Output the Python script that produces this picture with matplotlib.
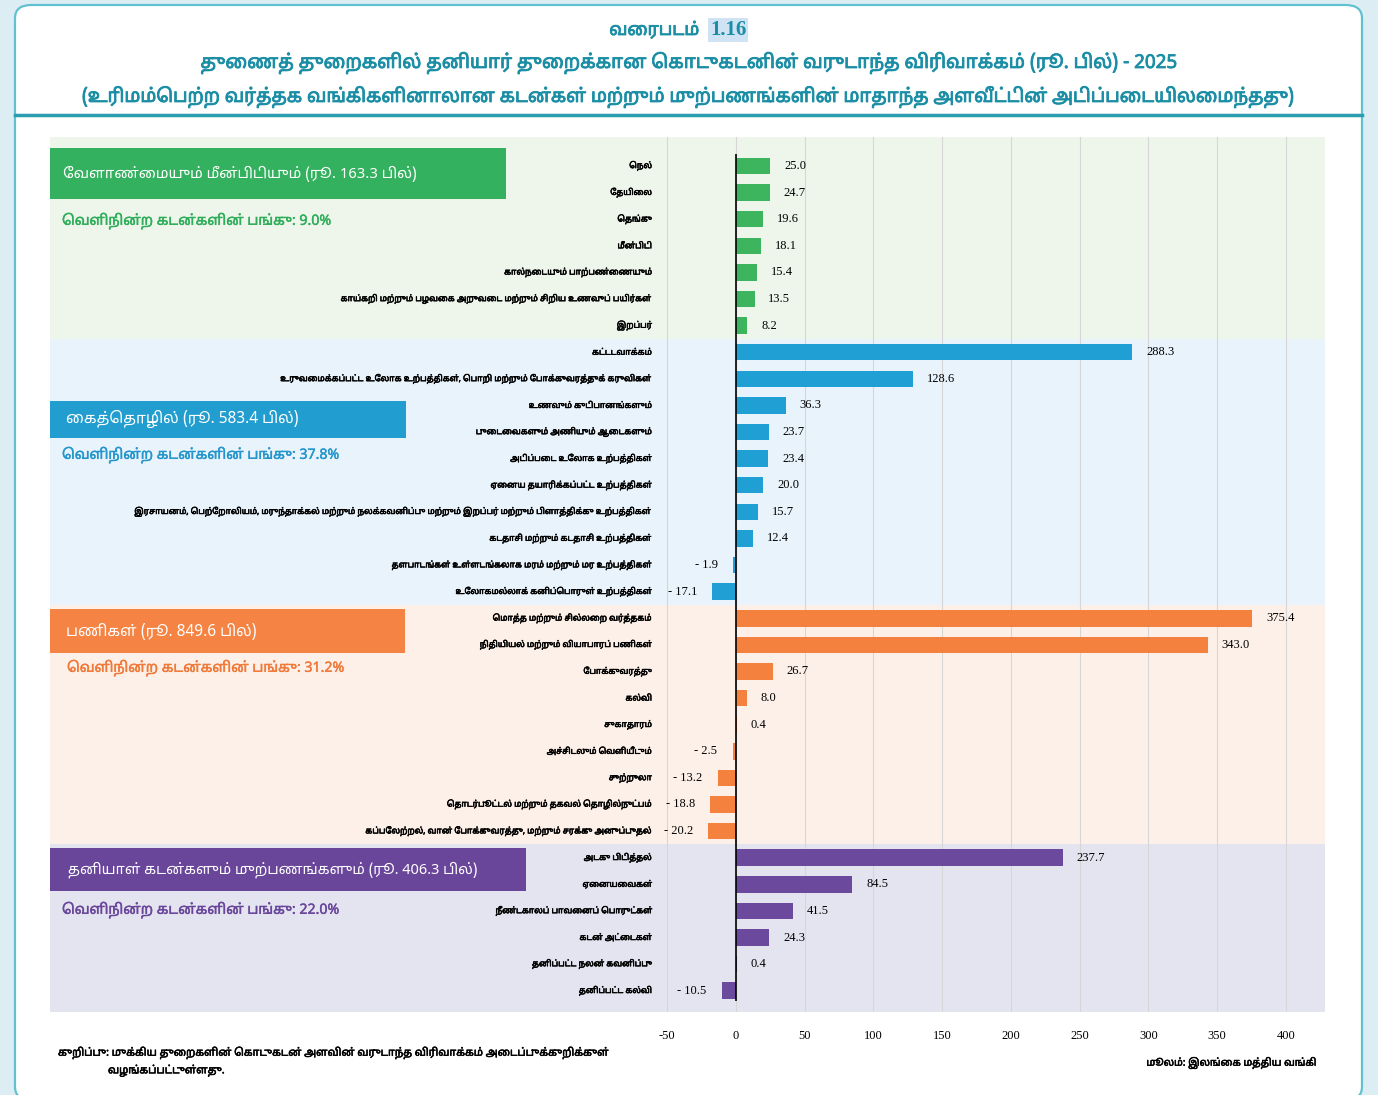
import matplotlib
matplotlib.use("Agg")
import matplotlib.pyplot as plt
from matplotlib.patches import Rectangle, FancyBboxPatch
import matplotlib.patheffects as pe
import numpy as np

W, H = 1378, 1095

# ---- data -------------------------------------------------------------
group_names = [
    "வேளாண்மையும் மீன்பிடியும்",
    "கைத்தொழில்",
    "பணிகள்",
    "தனியாள் கடன்களும் முற்பணங்களும்",
]
group_totals = [163.3, 583.4, 849.6, 406.3]
group_shares = [9.0, 37.8, 31.2, 22.0]

agri_labels = [
    "நெல்",
    "தேயிலை",
    "தெங்கு",
    "மீன்பிடி",
    "கால்நடையும் பாற்பண்ணையும்",
    "காய்கறி மற்றும் பழவகை அறுவடை மற்றும் சிறிய உணவுப் பயிர்கள்",
    "இறப்பர்",
]
agri_values = [25.0, 24.7, 19.6, 18.1, 15.4, 13.5, 8.2]

ind_labels = [
    "கட்டடவாக்கம்",
    "உருவமைக்கப்பட்ட உலோக உற்பத்திகள், பொறி மற்றும் போக்குவரத்துக் கருவிகள்",
    "உணவும் குடிபானங்களும்",
    "புடைவைகளும் அணியும் ஆடைகளும்",
    "அடிப்படை உலோக உற்பத்திகள்",
    "ஏனைய தயாரிக்கப்பட்ட உற்பத்திகள்",
    "இரசாயனம், பெற்றோலியம், மருந்தாக்கல் மற்றும் நலக்கவனிப்பு மற்றும் இறப்பர் மற்றும் பிளாத்திக்கு உற்பத்திகள்",
    "கடதாசி மற்றும் கடதாசி உற்பத்திகள்",
    "தளபாடங்கள் உள்ளடங்கலாக மரம் மற்றும் மர உற்பத்திகள்",
    "உலோகமல்லாக் கனிப்பொருள் உற்பத்திகள்",
]
ind_values = [288.3, 128.6, 36.3, 23.7, 23.4, 20.0, 15.7, 12.4, -1.9, -17.1]

serv_labels = [
    "மொத்த மற்றும் சில்லறை வர்த்தகம்",
    "நிதியியல் மற்றும் வியாபாரப் பணிகள்",
    "போக்குவரத்து",
    "கல்வி",
    "சுகாதாரம்",
    "அச்சிடலும் வெளியீடும்",
    "சுற்றுலா",
    "தொடர்பூட்டல் மற்றும் தகவல் தொழில்நுட்பம்",
    "கப்பலேற்றல், வான் போக்குவரத்து, மற்றும் சரக்கு அனுப்புதல்",
]
serv_values = [375.4, 343.0, 26.7, 8.0, 0.4, -2.5, -13.2, -18.8, -20.2]

pers_labels = [
    "அடகு பிடித்தல்",
    "ஏனையவைகள்",
    "நீண்டகாலப் பாவனைப் பொருட்கள்",
    "கடன் அட்டைகள்",
    "தனிப்பட்ட நலன் கவனிப்பு",
    "தனிப்பட்ட கல்வி",
]
pers_values = [237.7, 84.5, 41.5, 24.3, 0.4, -10.5]

x_ticks = [-50, 0, 50, 100, 150, 200, 250, 300, 350, 400]

title_lines = [
    "துணைத் துறைகளில் தனியார் துறைக்கான கொடுகடனின் வருடாந்த விரிவாக்கம் (ரூ. பில்) - 2025",
    "(உரிமம்பெற்ற வர்த்தக வங்கிகளினாலான கடன்கள் மற்றும் முற்பணங்களின் மாதாந்த அளவீட்டின் அடிப்படையிலமைந்தது)",
]
share_text = "வெளிநின்ற கடன்களின் பங்கு:"
note_lines = [
    "குறிப்பு: முக்கிய துறைகளின் கொடுகடன் அளவின் வருடாந்த விரிவாக்கம் அடைப்புக்குறிக்குள்",
    "வழங்கப்பட்டுள்ளது.",
]
source_text = "மூலம்: இலங்கை மத்திய வங்கி"

# ---- styling ----------------------------------------------------------
bar_colors = ["#3cb55e", "#1f9fd4", "#f5813f", "#6b4a9e"]
band_colors = ["#eef6ec", "#e9f3fb", "#fdf0e8", "#e3e4f0"]
box_colors = ["#34b15f", "#229dcf", "#f58343", "#6a469b"]
share_colors = ["#2fae5a", "#2496cc", "#f07a3a", "#6a469b"]
teal = "#1b8ea5"

# header boxes in pixels: left, top, right, bottom, text x, text width,
# share x, share y
box_px = [
    (50, 148, 506, 199, 63, 354, 62, 221),
    (50, 401, 406, 438, 66, 233, 62, 455),
    (50, 609, 405, 653, 66, 191, 67, 668),
    (50, 848, 526, 891, 68, 411, 62, 910),
]

TAMIL = ["Noto Sans Tamil", "DejaVu Sans"]
NUM = ["Liberation Serif"]

# matplotlib does not shape Indic text, so put the prefix vowel signs
# in front of their consonant by hand
PREFIX = {"\u0bc6", "\u0bc7", "\u0bc8"}
SPLIT = {"\u0bca": ("\u0bc6", "\u0bbe"), "\u0bcb": ("\u0bc7", "\u0bbe"),
         "\u0bcc": ("\u0bc6", "\u0bd7")}


def ta(text):
    out = []
    for ch in text:
        if ch in PREFIX and out:
            out.insert(len(out) - 1, ch)
        elif ch in SPLIT and out:
            pre, post = SPLIT[ch]
            out.insert(len(out) - 1, pre)
            out.append(post)
        else:
            out.append(ch)
    return "".join(out)


def fx(x):
    return x / W


def fy(y):
    return 1 - y / H


def bold(color, lw=0.6):
    return [pe.withStroke(linewidth=lw, foreground=color)]


fig = plt.figure(figsize=(W / 100, H / 100), dpi=100)
fig.patch.set_facecolor("#dcedf3")
renderer = fig.canvas.get_renderer()


def fit(t, width):
    bb = t.get_window_extent(renderer)
    t.set_fontsize(t.get_fontsize() * width / bb.width)
    return t.get_fontsize()


frame = FancyBboxPatch((fx(15), fy(1100)), fx(1362) - fx(15), fy(5) - fy(1100),
                       boxstyle="round,pad=0,rounding_size=0.012",
                       transform=fig.transFigure, facecolor="white",
                       edgecolor="#62c1d0", linewidth=1.6, zorder=-2)
fig.patches.append(frame)
fig.add_artist(plt.Line2D([fx(15), fx(1362)], [fy(115), fy(115)],
                          transform=fig.transFigure, color="#2a9db0", lw=2.5,
                          zorder=-1))

# titles
t = fig.text(fx(699), fy(30), ta("வரைபடம்"), ha="right", va="center",
             color=teal, fontsize=13, family=TAMIL, path_effects=bold(teal))
fit(t, 90)
fig.text(fx(710), fy(30), "1.16", ha="left", va="center", color=teal,
         fontsize=15, family=NUM, fontweight="bold",
         bbox=dict(facecolor="#cfe3f5", edgecolor="none", pad=1.5))
for line, y, w in zip(title_lines, [63, 97], [977, 1213]):
    t = fig.text(fx(688), fy(y), ta(line), ha="center", va="center", color=teal,
                 fontsize=13, family=TAMIL, path_effects=bold(teal))
    fit(t, w)

# ---- chart ------------------------------------------------------------
ax = fig.add_axes([fx(50), fy(1012), fx(1325) - fx(50), fy(137) - fy(1012)])

groups = [
    (agri_labels, agri_values),
    (ind_labels, ind_values),
    (serv_labels, serv_values),
    (pers_labels, pers_values),
]
labels = [l for g in groups for l in g[0]]
values = [v for g in groups for v in g[1]]
colors = [bar_colors[k] for k, g in enumerate(groups) for _ in g[1]]
ypos = np.arange(len(values))

start = 0
for k, (lab, val) in enumerate(groups):
    lo = start - 0.5 if k else -5
    hi = start + len(val) - 0.5 if k < len(groups) - 1 else len(values) + 5
    ax.axhspan(lo, hi, color=band_colors[k], zorder=0, lw=0)
    start += len(val)

ax.barh(ypos, values, height=0.62, color=colors, zorder=2)
ax.vlines(0, ypos[0] - 0.45, ypos[-1] + 0.4, color="black", lw=1.2, zorder=3)

for y, v in zip(ypos, values):
    txt = f"{v:.1f}" if v >= 0 else f"- {abs(v):.1f}"
    ax.annotate(txt, (v, y), xytext=(10 if v >= 0 else -11, 0),
                textcoords="offset points", ha="left" if v >= 0 else "right",
                va="center", fontsize=9, family=NUM)

label_tr = ax.get_yaxis_transform()
label_x = (652 - 50) / (1325 - 50)
cat_texts = []
for y, lab in zip(ypos, labels):
    cat_texts.append(ax.text(label_x, y, ta(lab), transform=label_tr,
                             ha="right", va="center", fontsize=7,
                             family=TAMIL, path_effects=bold("black", 0.4)))
longest = max(cat_texts, key=lambda t: t.get_window_extent(renderer).width)
size = fit(longest, 517)
for t in cat_texts:
    t.set_fontsize(size)

ax.set_xlim(-498.9, 428.4)
ax.set_ylim(len(values) - 0.2, -1.09)
ax.set_xticks(x_ticks)
ax.set_xticklabels([str(t) for t in x_ticks], family=NUM, fontsize=9)
ax.tick_params(axis="x", length=0, pad=13)
ax.set_yticks([])
ax.grid(axis="x", color="#d6d6d6", lw=0.8, zorder=0.5)
ax.set_axisbelow(True)
for s in ax.spines.values():
    s.set_visible(False)

# group header boxes
share_size = None
for k, (l, t_, r, b, tx, tw, sx, sy) in enumerate(box_px):
    fig.patches.append(Rectangle((fx(l), fy(b)), fx(r) - fx(l), fy(t_) - fy(b),
                                 transform=fig.transFigure,
                                 facecolor=box_colors[k], edgecolor="none", zorder=5))
    head = f"{group_names[k]} (ரூ. {group_totals[k]:.1f} பில்)"
    t = fig.text(fx(tx), fy((t_ + b) / 2), ta(head), ha="left", va="center",
                 color="white", fontsize=12, family=TAMIL, zorder=6)
    fit(t, tw)
    s = fig.text(fx(sx), fy(sy), ta(share_text) + f" {group_shares[k]:.1f}%",
                 ha="left", va="center", color=share_colors[k], fontsize=9.5,
                 family=TAMIL, zorder=6, path_effects=bold(share_colors[k], 0.3))
    if share_size is None:
        share_size = fit(s, 269)
    s.set_fontsize(share_size)

# footer
n1 = fig.text(fx(58), fy(1053), ta(note_lines[0]), ha="left", va="center",
              fontsize=7, family=TAMIL, path_effects=bold("black", 0.4))
note_size = fit(n1, 550)
fig.text(fx(108), fy(1071), ta(note_lines[1]), ha="left", va="center",
         fontsize=note_size, family=TAMIL, path_effects=bold("black", 0.4))
src = fig.text(fx(1316), fy(1063), ta(source_text), ha="right", va="center",
               fontsize=7, family=TAMIL, path_effects=bold("black", 0.4))
fit(src, 170)

fig.savefig("out.png", dpi=100, facecolor=fig.get_facecolor())
